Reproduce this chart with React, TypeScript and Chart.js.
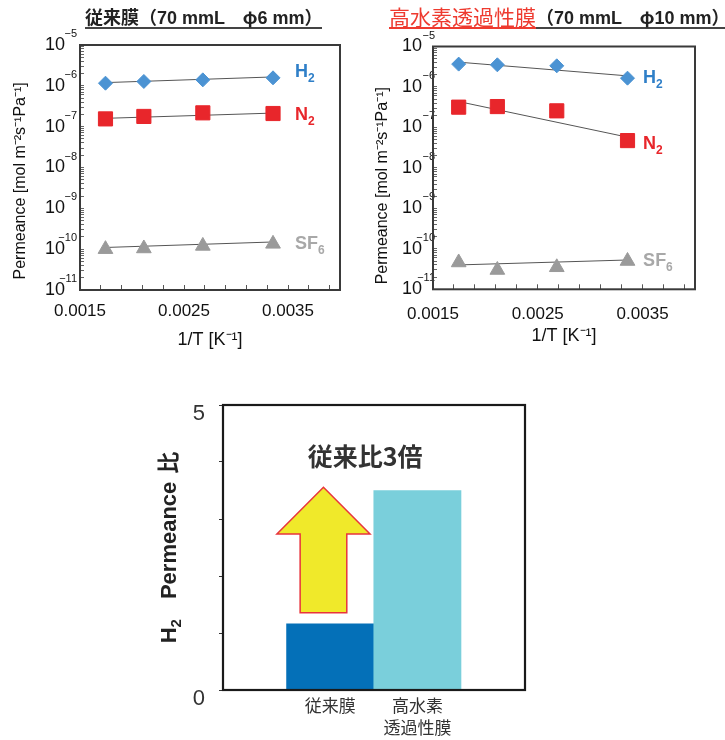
import React, { useEffect, useRef } from 'react';
import { Chart, registerables } from 'chart.js';

Chart.register(...registerables);

const LATIN = "'Liberation Sans', Arial, Helvetica, sans-serif";
const CJK = "'Noto Sans CJK JP', 'Noto Sans CJK SC', sans-serif";
const MIXED = "'Liberation Sans', 'Noto Sans CJK JP', sans-serif";

// ---------------- data ----------------
// 1/T values (573 K, 473 K, 373 K, 298 K)
const invT = [0.001745, 0.002114, 0.002681, 0.003356];
const xMin = 0.0015;
const xMax = 0.004;
const xMinorStep = 0.0002;
const xTickLabelValues = [0.0015, 0.0025, 0.0035];
const xTitle = '1/T [K⁻¹]';
const yTitle = 'Permeance [mol m⁻²s⁻¹Pa⁻¹]';
const yExponents = [-11, -10, -9, -8, -7, -6, -5];

const gasNames = ['H', 'N', 'SF'];
const gasSubs = ['2', '2', '6'];

// 従来膜
const convH2 = [1.16e-6, 1.28e-6, 1.4e-6, 1.57e-6];
const convN2 = [1.55e-7, 1.78e-7, 2.18e-7, 2.1e-7];
const convSF6 = [1.0e-10, 1.04e-10, 1.2e-10, 1.35e-10];
const convH2Fit = [1.2e-6, 1.65e-6];
const convN2Fit = [1.6e-7, 2.15e-7];
const convSF6Fit = [1.1e-10, 1.5e-10];

// 高水素透過性膜
const newH2 = [3.67e-6, 3.53e-6, 3.33e-6, 1.65e-6];
const newN2 = [3.17e-7, 3.28e-7, 2.57e-7, 4.73e-8];
const newSF6 = [4.6e-11, 3.0e-11, 3.5e-11, 5.0e-11];
const newH2Fit = [4.1e-6, 1.88e-6];
const newN2Fit = [4.36e-7, 5.75e-8];
const newSF6Fit = [4.0e-11, 5.3e-11];

// H2 permeance ratio bars
const barCategories: (string | string[])[] = ['従来膜', ['高水素', '透過性膜']];
const barValues = [1.16, 3.5];
const barYTicks = [0, 1, 2, 3, 4, 5];
const barYLabels = [0, 5];
const barNote = '従来比3倍';
const barTitleParts = ['H', '2', 'Permeance', '比'];

// ---------------- styles ----------------
const gasStyles = [
  { pointStyle: 'rectRot', radius: 7, color: '#4b93d3', labelColor: '#2f7fc8' },
  { pointStyle: 'rect', radius: 10, color: '#e8262b', labelColor: '#e8262b' },
  { pointStyle: 'triangle', radius: 8.5, color: '#9a9a9a', labelColor: '#a8a8a8' },
];
const barColors = ['#0470b8', '#7acfdb'];
// arrow annotation, in data units of the bar chart
const arrowSpec = { cx: -0.077, shaftHalf: 0.2675, headHalf: 0.534, yBase: 1.356, yShoulder: 2.737, yTip: 3.556 };
const notePos = { x: 0.4, y: 4.09 };

type Seg = { text: string; font: string; dy?: number; gap?: number };

function drawRich(ctx: CanvasRenderingContext2D, segs: Seg[], x: number, y: number, color: string, align: 'left' | 'center') {
  ctx.save();
  ctx.fillStyle = color;
  ctx.textBaseline = 'alphabetic';
  ctx.textAlign = 'left';
  let total = 0;
  const widths = segs.map((s) => {
    ctx.font = s.font;
    const w = ctx.measureText(s.text).width;
    total += w + (s.gap || 0);
    return w;
  });
  let cx = align === 'center' ? x - total / 2 : x;
  segs.forEach((s, i) => {
    cx += s.gap || 0;
    ctx.font = s.font;
    ctx.fillText(s.text, cx, y + (s.dy || 0));
    cx += widths[i];
  });
  ctx.restore();
}

function zeroPadding(s: any) {
  s.paddingTop = 0;
  s.paddingBottom = 0;
  s.paddingLeft = 0;
  s.paddingRight = 0;
}

type ScatterCfg = {
  W: number;
  H: number;
  box: { left: number; top: number; right: number; bottom: number };
  series: { pts: number[]; fit: number[]; labelDy: number }[];
  labelX: number;
  tickGap: number;
  expRight: number;
  yTitleNbsp: number;
  yTitlePad: number;
  xTitlePad: number;
  xTickPad: number;
};

function isDecade(v: number) {
  const l = Math.log10(v);
  return Math.abs(l - Math.round(l)) < 1e-6;
}

function scatterConfig(cfg: ScatterCfg): any {
  const { W, H, box, series } = cfg;
  const datasets: any[] = [];
  series.forEach((s, i) => {
    const st = gasStyles[i];
    datasets.push({
      label: gasNames[i] + gasSubs[i],
      data: invT.map((x, k) => ({ x, y: s.pts[k] })),
      showLine: false,
      pointStyle: st.pointStyle,
      pointRadius: st.radius,
      pointHoverRadius: st.radius,
      backgroundColor: st.color,
      borderColor: st.color,
      borderWidth: 1,
      order: 0,
    });
  });
  series.forEach((s, i) => {
    datasets.push({
      label: gasNames[i] + gasSubs[i] + ' fit',
      data: [
        { x: invT[0], y: s.fit[0] },
        { x: invT[invT.length - 1], y: s.fit[1] },
      ],
      showLine: true,
      pointRadius: 0,
      borderColor: '#555555',
      borderWidth: 1,
      fill: false,
      order: 1,
    });
  });

  const decor = {
    id: 'scatterDecor',
    afterDraw(chart: any) {
      const { ctx, chartArea: a } = chart;
      const xs = chart.scales.x;
      const ys = chart.scales.y;
      ctx.save();
      // exponents of the 10^n tick labels
      ctx.fillStyle = '#111';
      ctx.textAlign = 'right';
      ctx.textBaseline = 'middle';
      ctx.font = `11px ${LATIN}`;
      yExponents.forEach((e) => {
        const py = ys.getPixelForValue(Math.pow(10, e));
        ctx.fillText('\u2212' + Math.abs(e), a.left + cfg.expRight, py - 11);
      });
      // frame
      ctx.strokeStyle = '#3a3a3a';
      ctx.lineWidth = 2;
      ctx.strokeRect(a.left, a.top, a.right - a.left, a.bottom - a.top);
      ctx.restore();
      // series labels
      series.forEach((s, i) => {
        const meta = chart.getDatasetMeta(i);
        const el = meta.data[meta.data.length - 1];
        const lx = xs.getPixelForValue(cfg.labelX);
        drawRich(
          ctx,
          [
            { text: gasNames[i], font: `bold 18px ${LATIN}` },
            { text: gasSubs[i], font: `bold 12px ${LATIN}`, dy: 5 },
          ],
          lx,
          el.y + s.labelDy + 6.5,
          gasStyles[i].labelColor,
          'left'
        );
      });
    },
  };

  return {
    type: 'scatter',
    data: { datasets },
    options: {
      responsive: false,
      animation: false,
      events: [],
      layout: { padding: { left: 0, top: box.top, right: W - box.right, bottom: 0 } },
      plugins: { legend: { display: false }, tooltip: { enabled: false } },
      scales: {
        x: {
          type: 'linear',
          min: xMin,
          max: xMax,
          afterBuildTicks: (s: any) => {
            const t: any[] = [];
            for (let k = 0; xMin + k * xMinorStep < xMax - 1e-9; k++) t.push({ value: +(xMin + k * xMinorStep).toFixed(5) });
            s.ticks = t;
          },
          afterFit: (s: any) => {
            s.height = H - box.bottom;
            zeroPadding(s);
          },
          grid: { drawOnChartArea: false, drawTicks: true, tickLength: -5, color: '#555', lineWidth: 1 },
          border: { display: false },
          ticks: {
            autoSkip: false,
            maxRotation: 0,
            padding: cfg.xTickPad,
            color: '#111',
            font: { family: LATIN, size: 17 },
            callback: (v: number) => (xTickLabelValues.some((t) => Math.abs(t - v) < 1e-8) ? Number(v).toFixed(4) : ''),
          },
          title: {
            display: true,
            text: xTitle,
            color: '#111',
            font: { family: LATIN, size: 18 },
            padding: { top: 0, bottom: cfg.xTitlePad },
          },
        },
        y: {
          type: 'logarithmic',
          min: Math.pow(10, yExponents[0]),
          max: Math.pow(10, yExponents[yExponents.length - 1]),
          afterBuildTicks: (s: any) => {
            const t: any[] = [];
            for (let j = 0; j < yExponents.length - 1; j++) {
              for (let m = 1; m <= 9; m++) t.push({ value: m * Math.pow(10, yExponents[j]), major: m === 1 });
            }
            t.push({ value: Math.pow(10, yExponents[yExponents.length - 1]), major: true });
            s.ticks = t;
          },
          afterFit: (s: any) => {
            s.width = box.left;
            zeroPadding(s);
          },
          grid: { drawOnChartArea: false, drawTicks: true, tickLength: -4, color: '#666', lineWidth: 1 },
          border: { display: false },
          ticks: {
            autoSkip: false,
            padding: cfg.tickGap + 4,
            color: '#111',
            font: { family: LATIN, size: 18 },
            callback: (v: number) => (isDecade(v) ? '10' : ''),
          },
          title: {
            display: true,
            text: yTitle + '\u00a0'.repeat(cfg.yTitleNbsp),
            color: '#111',
            font: { family: LATIN, size: 16 },
            padding: { top: cfg.yTitlePad, bottom: 0 },
          },
        },
      },
    },
    plugins: [decor],
  };
}

function barConfig(): any {
  const W = 400;
  const H = 350;
  const box = { left: 73, top: 15, right: 375, bottom: 300 };
  const decor = {
    id: 'barDecor',
    afterDatasetsDraw(chart: any) {
      const { ctx } = chart;
      const xs = chart.scales.x;
      const ys = chart.scales.y;
      const px = (v: number) => xs.getPixelForValue(v);
      const py = (v: number) => ys.getPixelForValue(v);
      const A = arrowSpec;
      ctx.save();
      ctx.beginPath();
      ctx.moveTo(px(A.cx - A.shaftHalf), py(A.yBase));
      ctx.lineTo(px(A.cx - A.shaftHalf), py(A.yShoulder));
      ctx.lineTo(px(A.cx - A.headHalf), py(A.yShoulder));
      ctx.lineTo(px(A.cx), py(A.yTip));
      ctx.lineTo(px(A.cx + A.headHalf), py(A.yShoulder));
      ctx.lineTo(px(A.cx + A.shaftHalf), py(A.yShoulder));
      ctx.lineTo(px(A.cx + A.shaftHalf), py(A.yBase));
      ctx.closePath();
      ctx.fillStyle = '#f0e92a';
      ctx.fill();
      ctx.strokeStyle = '#e8343c';
      ctx.lineWidth = 1.5;
      ctx.stroke();
      ctx.fillStyle = '#333';
      ctx.font = `bold 25px ${CJK}`;
      ctx.textAlign = 'center';
      ctx.textBaseline = 'middle';
      ctx.fillText(barNote, px(notePos.x), py(notePos.y));
      ctx.restore();
    },
    afterDraw(chart: any) {
      const { ctx, chartArea: a } = chart;
      ctx.save();
      ctx.strokeStyle = '#1a1a1a';
      ctx.lineWidth = 2.2;
      ctx.strokeRect(a.left, a.top, a.right - a.left, a.bottom - a.top);
      ctx.translate(a.left - 55, (a.top + a.bottom) / 2);
      ctx.rotate(-Math.PI / 2);
      drawRich(
        ctx,
        [
          { text: barTitleParts[0], font: `bold 22px ${LATIN}` },
          { text: barTitleParts[1], font: `bold 15px ${LATIN}`, dy: 5 },
          { text: barTitleParts[2], font: `bold 22px ${LATIN}`, gap: 20 },
          { text: barTitleParts[3], font: `bold 22px ${CJK}`, gap: 8 },
        ],
        0,
        8,
        '#222',
        'center'
      );
      ctx.restore();
    },
  };
  return {
    type: 'bar',
    data: {
      datasets: [
        {
          label: 'H2 Permeance 比',
          data: barValues.map((v, i) => ({ x: i, y: v })),
          backgroundColor: barColors,
          borderWidth: 0,
          barPercentage: 1,
          categoryPercentage: 1,
        },
      ],
    },
    options: {
      responsive: false,
      animation: false,
      events: [],
      layout: { padding: { left: 0, top: box.top, right: W - box.right, bottom: 0 } },
      plugins: { legend: { display: false }, tooltip: { enabled: false } },
      scales: {
        x: {
          type: 'linear',
          min: -1.229,
          max: 2.234,
          offset: false,
          afterBuildTicks: (s: any) => {
            s.ticks = barCategories.map((_, i) => ({ value: i }));
          },
          afterFit: (s: any) => {
            s.height = H - box.bottom;
            zeroPadding(s);
          },
          grid: { display: false, drawTicks: false, offset: false },
          border: { display: false },
          ticks: {
            autoSkip: false,
            maxRotation: 0,
            padding: 4,
            color: '#333',
            font: { family: CJK, size: 17, lineHeight: 1.3 },
            callback: (_v: number, i: number) => barCategories[i],
          },
        },
        y: {
          type: 'linear',
          min: 0,
          max: 5,
          afterBuildTicks: (s: any) => {
            s.ticks = barYTicks.map((v) => ({ value: v }));
          },
          afterFit: (s: any) => {
            s.width = box.left;
            zeroPadding(s);
          },
          grid: { drawOnChartArea: false, drawTicks: true, tickLength: 4, color: '#333', lineWidth: 1 },
          border: { display: false },
          ticks: {
            padding: 14,
            labelOffset: 9,
            color: '#333',
            font: { family: LATIN, size: 22 },
            callback: (v: number) => (barYLabels.includes(v) ? String(v) : ''),
          },
        },
      },
    },
    plugins: [decor],
  };
}

const leftCfg: ScatterCfg = {
  W: 360,
  H: 360,
  box: { left: 80, top: 45, right: 340, bottom: 290 },
  series: [
    { pts: convH2, fit: convH2Fit, labelDy: -7 },
    { pts: convN2, fit: convN2Fit, labelDy: 0 },
    { pts: convSF6, fit: convSF6Fit, labelDy: -1.5 },
  ],
  labelX: 0.003567,
  tickGap: 15,
  expRight: -3,
  yTitleNbsp: 6,
  yTitlePad: 11.4,
  xTitlePad: 9.2,
  xTickPad: 16.5,
};

const rightCfg: ScatterCfg = {
  W: 365,
  H: 360,
  box: { left: 73, top: 46.5, right: 335, bottom: 289.3 },
  series: [
    { pts: newH2, fit: newH2Fit, labelDy: -2 },
    { pts: newN2, fit: newN2Fit, labelDy: 2 },
    { pts: newSF6, fit: newSF6Fit, labelDy: -2 },
  ],
  labelX: 0.003505,
  tickGap: 11,
  expRight: 2,
  yTitleNbsp: 8,
  yTitlePad: 13.4,
  xTitlePad: 13.2,
  xTickPad: 19.5,
};

export default function App() {
  const c1 = useRef<HTMLCanvasElement>(null);
  const c2 = useRef<HTMLCanvasElement>(null);
  const c3 = useRef<HTMLCanvasElement>(null);

  useEffect(() => {
    const charts = [
      new Chart(c1.current as HTMLCanvasElement, scatterConfig(leftCfg)),
      new Chart(c2.current as HTMLCanvasElement, scatterConfig(rightCfg)),
      new Chart(c3.current as HTMLCanvasElement, barConfig()),
    ];
    return () => charts.forEach((c) => c.destroy());
  }, []);

  const abs = (l: number, t: number, w: number, h: number): React.CSSProperties => ({
    position: 'absolute',
    left: l,
    top: t,
    width: w,
    height: h,
  });

  return (
    <div style={{ position: 'absolute', left: 0, top: 0, width: 725, height: 740, background: '#fff', overflow: 'hidden' }}>
      <canvas ref={c1} width={360} height={360} style={abs(0, 0, 360, 360)} />
      <canvas ref={c2} width={365} height={360} style={abs(360, 0, 365, 360)} />
      <canvas ref={c3} width={400} height={350} style={abs(150, 390, 400, 350)} />
      <div
        style={{
          position: 'absolute',
          left: 85,
          top: 5,
          whiteSpace: 'nowrap',
          fontFamily: MIXED,
          fontWeight: 700,
          fontSize: 18,
          lineHeight: '22px',
          height: 22,
          color: '#222',
          borderBottom: '2px solid #444',
        }}
      >
        従来膜（70 mmL　<span style={{ fontFamily: CJK }}>φ</span>6 mm）
      </div>
      <div style={{ position: 'absolute', left: 389, top: 5, whiteSpace: 'nowrap', display: 'flex', alignItems: 'flex-start' }}>
        <span
          style={{
            color: '#ee3a2f',
            fontFamily: CJK,
            fontSize: 21,
            fontWeight: 400,
            lineHeight: '22px',
            height: 22,
            borderBottom: '2px solid #ee3a2f',
          }}
        >
          高水素透過性膜
        </span>
        <span
          style={{
            fontFamily: MIXED,
            fontWeight: 700,
            fontSize: 18,
            lineHeight: '22px',
            height: 22,
            color: '#222',
            borderBottom: '2px solid #444',
          }}
        >
          （70 mmL　<span style={{ fontFamily: CJK }}>φ</span>10 mm）
        </span>
      </div>
    </div>
  );
}
